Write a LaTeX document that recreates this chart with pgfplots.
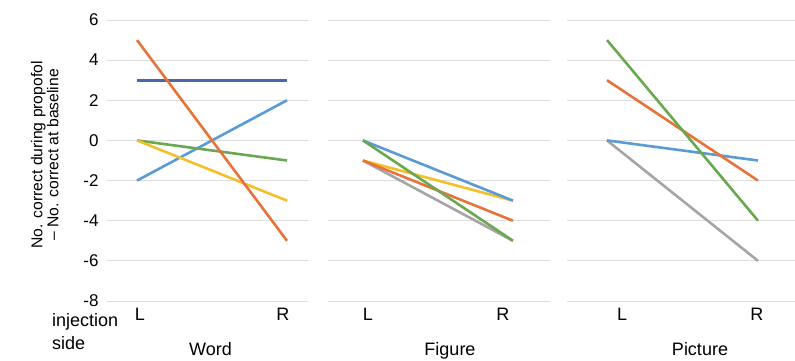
\documentclass[border=0pt]{standalone}
\usepackage{pgfplots}
\pgfplotsset{compat=1.18}
\usepackage{fontspec}
\setmainfont{Liberation Sans}
\definecolor{cblue}{HTML}{5B9BD5}
\definecolor{cnavy}{HTML}{4A66A8}
\definecolor{corange}{HTML}{E6733A}
\definecolor{cgray}{HTML}{A5A5A5}
\definecolor{cyellow}{HTML}{F5BE2A}
\definecolor{cgreen}{HTML}{6AA84F}
\definecolor{cgrid}{HTML}{DDDDDD}
\pgfplotsset{
  panel/.style={
    scale only axis, anchor=south west,
    height=281pt,
    ymin=-8, ymax=6, ytick={-8,-6,...,6},
    ymajorgrids, major grid style={cgrid, line width=0.9pt},
    axis line style={draw=none},
    major tick length=0pt,
    yticklabel style={font=\fontsize{17}{19}\selectfont},
    xticklabel style={yshift=-4pt, font=\fontsize{18}{20}\selectfont},
    xticklabels={L,R},
    xlabel style={font=\fontsize{18}{20}\selectfont},
    every axis plot/.append style={line width=2.6pt, no markers},
    clip=false,
  }
}
\begin{document}
\begin{tikzpicture}
\useasboundingbox (0,0) rectangle (795pt,360pt);
% Word
\begin{axis}[panel, at={(107pt,59pt)}, width=201pt,
  xmin=-0.2, xmax=1.14, xtick={0.02,0.973},
  yticklabels={-8,-6,-4,-2,0,2,4,6},
  yticklabel style={xshift=-5pt},
  ylabel={No. correct during propofol\\[-1pt] -- No. correct at baseline},
  ylabel style={align=center, font=\fontsize{15.7}{17}\selectfont, at={(axis description cs:-0.31,0.52)}, anchor=center},
  xlabel={Word},
  xlabel style={at={(axis description cs:0.5,0)}, anchor=north, yshift=-38pt, xshift=3pt},
]
\addplot[color=cnavy] coordinates {(0,3) (1,3)};
\addplot[color=cblue] coordinates {(0,-2) (1,2)};
\addplot[color=cgreen] coordinates {(0,0) (1,-1)};
\addplot[color=cyellow] coordinates {(0,0) (1,-3)};
\addplot[color=corange] coordinates {(0,5) (1,-5)};
\end{axis}
% Figure
\begin{axis}[panel, at={(328pt,59pt)}, width=222pt,
  xmin=-0.233, xmax=1.247, xtick={0.033,0.933},
  yticklabels={},
  xlabel={Figure},
  xlabel style={at={(axis description cs:0.5,0)}, anchor=north, yshift=-38pt, xshift=11pt},
]
\addplot[color=cgray] coordinates {(0,-1) (1,-5)};
\addplot[color=cyellow] coordinates {(0,-1) (1,-3)};
\addplot[color=corange] coordinates {(0,-1) (1,-4)};
\addplot[color=cblue] coordinates {(0,0) (1,-3)};
\addplot[color=cgreen] coordinates {(0,0) (1,-5)};
\end{axis}
% Picture
\begin{axis}[panel, at={(567pt,59pt)}, width=228pt,
  xmin=-0.265, xmax=1.245, xtick={0.1,0.993},
  yticklabels={},
  xlabel={Picture},
  xlabel style={at={(axis description cs:0.5,0)}, anchor=north, yshift=-38pt, xshift=19pt},
]
\addplot[color=cgray] coordinates {(0,0) (1,-6)};
\addplot[color=cblue] coordinates {(0,0) (1,-1)};
\addplot[color=corange] coordinates {(0,3) (1,-2)};
\addplot[color=cgreen] coordinates {(0,5) (1,-4)};
\end{axis}
\node[anchor=north west, align=left, font=\fontsize{18}{23}\selectfont, inner sep=0pt] at (52pt,47pt) {injection\\side};
\end{tikzpicture}
\end{document}
